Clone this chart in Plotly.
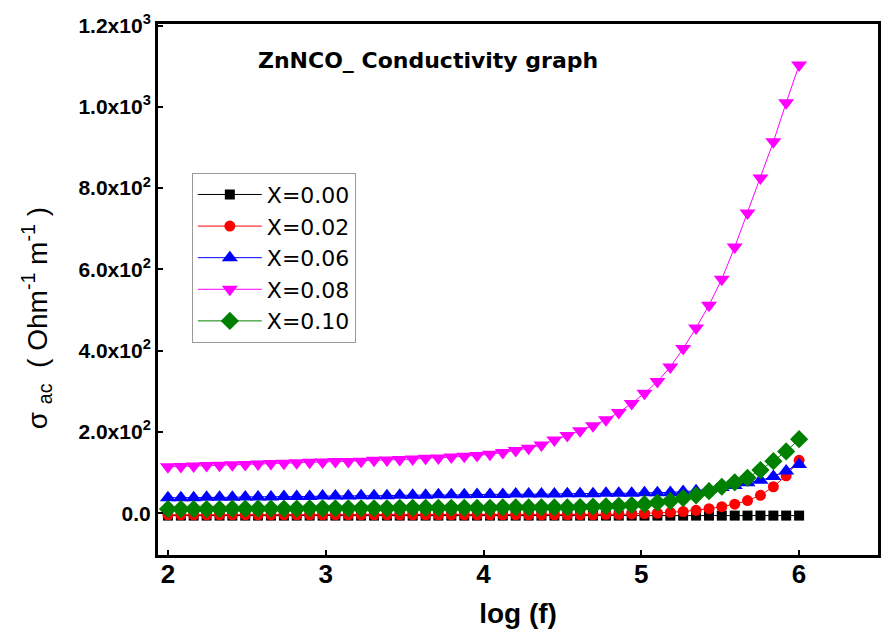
import plotly.graph_objects as go

# log10 of frequency (Hz)
log_f = [2.000, 2.082, 2.163, 2.245, 2.327, 2.408, 2.490, 2.571, 2.653, 2.735,
         2.816, 2.898, 2.980, 3.061, 3.143, 3.224, 3.306, 3.388, 3.469, 3.551,
         3.633, 3.714, 3.796, 3.878, 3.959, 4.041, 4.122, 4.204, 4.286, 4.367,
         4.449, 4.531, 4.612, 4.694, 4.776, 4.857, 4.939, 5.020, 5.102, 5.184,
         5.265, 5.347, 5.429, 5.510, 5.592, 5.673, 5.755, 5.837, 5.918, 6.000]

# AC conductivity for each composition
sigma_x000 = [-6] * 50
sigma_x002 = [-4, -4, -4, -4, -4, -4, -4, -4, -4, -4,
              -4, -4, -4, -4, -4, -4, -4, -4, -4, -4,
              -4, -4, -4, -4, -4, -4, -4, -4, -4, -4,
              -4, -4, -4, -4, -3, -3, -2, -1, 0, 2,
              4, 7, 11, 16, 22, 31, 44, 65, 92, 130]
sigma_x006 = [38, 38, 38, 39, 39, 39, 40, 40, 40, 41,
              41, 41, 42, 42, 42, 43, 43, 43, 44, 44,
              44, 45, 45, 45, 46, 46, 46, 47, 47, 47,
              47, 48, 48, 48, 49, 49, 49, 50, 50, 51,
              53, 55, 59, 63, 68, 75, 81, 90, 104, 120]
sigma_x008 = [114, 115, 116, 117, 118, 119, 120, 121, 122, 123,
              124, 125, 126, 127, 127, 128, 130, 131, 132, 133,
              135, 136, 138, 140, 142, 145, 149, 154, 160, 168,
              180, 191, 203, 215, 230, 248, 270, 295, 324, 360,
              405, 456, 512, 576, 655, 739, 825, 914, 1010, 1103]
sigma_x010 = [10, 10, 10, 10, 10, 11, 11, 11, 11, 11,
              11, 12, 12, 12, 12, 12, 12, 12, 13, 13,
              13, 13, 13, 13, 13, 13, 14, 14, 14, 14,
              14, 14, 15, 16, 17, 18, 20, 22, 26, 30,
              37, 44, 54, 65, 76, 87, 106, 128, 152, 182]

series_names = ["X=0.00", "X=0.02", "X=0.06", "X=0.08", "X=0.10"]
series_values = [sigma_x000, sigma_x002, sigma_x006, sigma_x008, sigma_x010]
series_colors = ["#000000", "#ff0000", "#0000ff", "#ff00ff", "#008000"]
series_symbols = ["square", "circle", "triangle-up", "triangle-down", "diamond"]
series_sizes = [10, 11, 14, 14, 14]

y_tick_vals = [0, 200, 400, 600, 800, 1000, 1200]
y_tick_text = ["0.0", "2.0x10<sup>2</sup>", "4.0x10<sup>2</sup>", "6.0x10<sup>2</sup>",
               "8.0x10<sup>2</sup>", "1.0x10<sup>3</sup>", "1.2x10<sup>3</sup>"]
x_tick_vals = [2, 3, 4, 5, 6]

fig = go.Figure()
for name, vals, color, sym, size in zip(series_names, series_values, series_colors,
                                        series_symbols, series_sizes):
    fig.add_trace(go.Scatter(
        x=log_f, y=vals, name=name, mode="lines+markers",
        line=dict(color=color, width=1),
        marker=dict(symbol=sym, size=size, color=color, line=dict(width=0)),
    ))

axis_common = dict(showline=True, linecolor="black", linewidth=3, mirror=True,
                   showgrid=False, zeroline=False, ticks="inside", ticklen=5,
                   tickwidth=2, tickcolor="black")

fig.update_layout(
    width=892, height=642,
    margin=dict(l=158, r=11, t=24, b=87),
    paper_bgcolor="white", plot_bgcolor="white",
    font=dict(family="Arial", color="black"),
    xaxis=dict(range=[1.937, 6.5], tickvals=x_tick_vals,
               tickfont=dict(size=26, weight="bold"), ticklabelstandoff=-6,
               title=dict(text="log (f)", font=dict(size=28, weight="bold"), standoff=16),
               **axis_common),
    yaxis=dict(range=[-103, 1204], tickvals=y_tick_vals, ticktext=y_tick_text,
               tickfont=dict(size=21, weight="bold"),
               **axis_common),
    legend=dict(x=0.047, y=0.72, xanchor="left", yanchor="top",
                bgcolor="white", bordercolor="#9a9a9a", borderwidth=1,
                font=dict(family="DejaVu Sans", size=22), itemwidth=64,
                tracegroupgap=0),
    showlegend=True,
)

# y-axis title, placed as a rotated label
fig.add_annotation(text="σ\u00a0<sub>ac</sub>\u00a0\u00a0( Ohm<sup>-1</sup> m<sup>-1</sup>\u00a0)",
                   xref="paper", yref="paper", x=-0.168, y=0.446,
                   xanchor="center", yanchor="middle", textangle=-90,
                   showarrow=False, font=dict(size=28))

fig.add_annotation(text="ZnNCO_ Conductivity graph", xref="paper", yref="paper",
                   x=0.375, y=0.932, xanchor="center", yanchor="middle",
                   showarrow=False,
                   font=dict(family="DejaVu Sans", size=22, weight="bold"))

fig.write_html("out.html")
